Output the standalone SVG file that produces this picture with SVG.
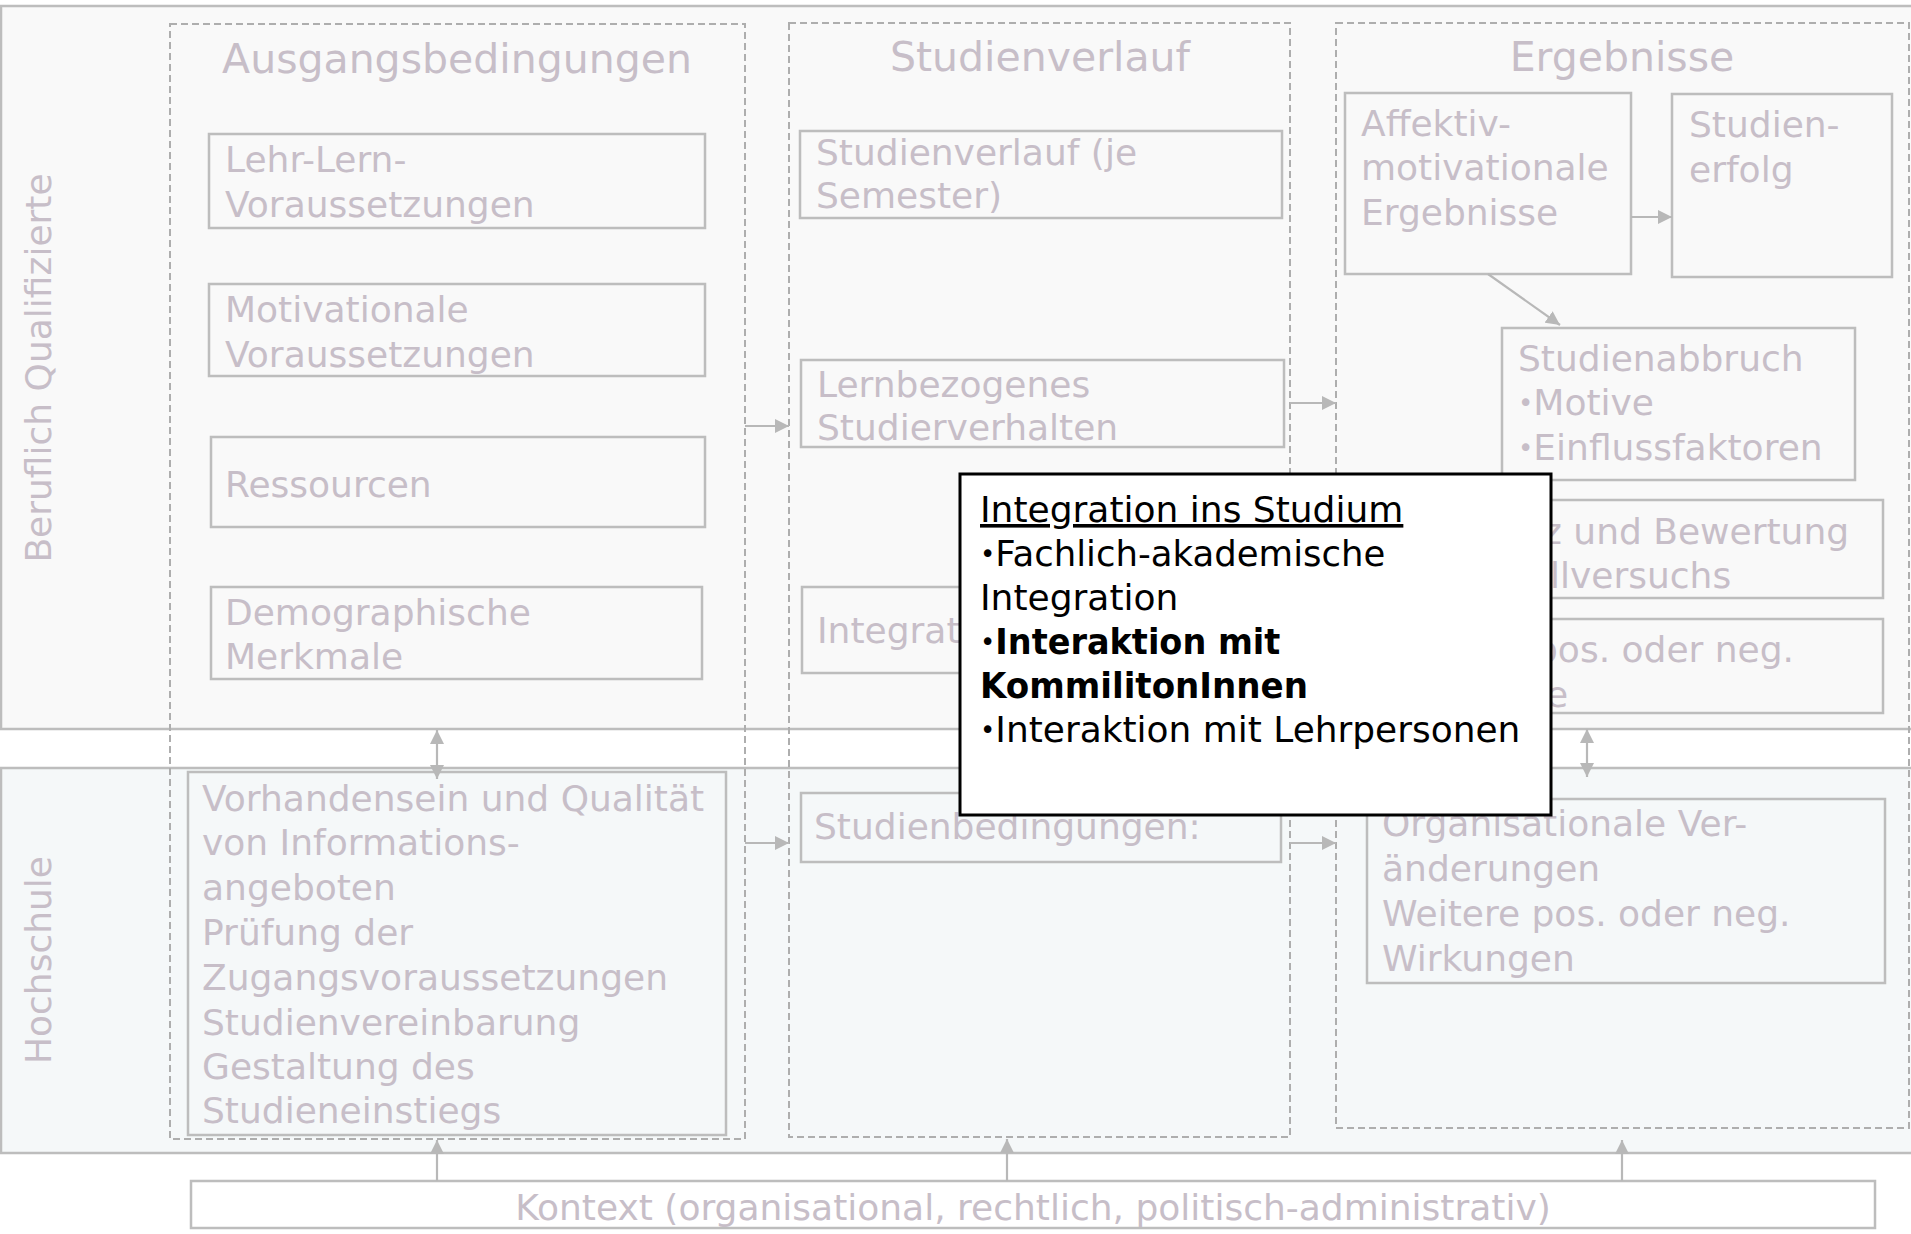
<svg xmlns="http://www.w3.org/2000/svg" width="1911" height="1234" viewBox="0 0 1911 1234">
<style>
.t{font-family:"DejaVu Sans","Liberation Sans",sans-serif;font-size:36px;fill:#c7bec8}
.h{font-size:41px;text-anchor:middle}
.p{font-family:"DejaVu Sans","Liberation Sans",sans-serif;font-size:36px;fill:#000}
.b{font-weight:bold}
.bu{font-size:26px;font-weight:normal}
.box{fill:#f9f9f9;stroke:#bdbdbd;stroke-width:2.5}
.boxh{fill:#f5f8f9;stroke:#bdbdbd;stroke-width:2.5}
.dash{fill:none;stroke:#aeaeae;stroke-width:2;stroke-dasharray:7 4}
.conn{fill:none;stroke:#b8b8b8;stroke-width:2.2}
</style>
<defs>
<marker id="ah" viewBox="0 0 14 14" refX="14" refY="7" markerWidth="14" markerHeight="14" markerUnits="userSpaceOnUse" orient="auto-start-reverse">
<path d="M0,0 L14,7 L0,14 z" fill="#b8b8b8"/>
</marker>
</defs>
<rect width="1911" height="1234" fill="#ffffff"/>

<g id="band-beruflich">
<rect x="1" y="6" width="1920" height="723" fill="#f9f9f9" stroke="#bdbdbd" stroke-width="2.5"/>
<text class="t" transform="translate(51,368) rotate(-90)" text-anchor="middle">Beruflich Qualifizierte</text>
</g>
<g id="band-hochschule">
<rect x="1" y="768" width="1920" height="385" fill="#f5f8f9" stroke="#bdbdbd" stroke-width="2.5"/>
<text class="t" transform="translate(51,960) rotate(-90)" text-anchor="middle">Hochschule</text>
</g>

<g id="col-ausgang">
<rect class="dash" x="170" y="24" width="575" height="1115"/>
<text class="t h" x="457" y="73">Ausgangsbedingungen</text>
</g>
<g id="col-verlauf">
<rect class="dash" x="789" y="23" width="501" height="1114"/>
<text class="t h" x="1040" y="71">Studienverlauf</text>
</g>
<g id="col-ergebnisse">
<rect class="dash" x="1336" y="23" width="573" height="1105"/>
<text class="t h" x="1622" y="71">Ergebnisse</text>
</g>

<g id="n-lehrlern">
<rect class="box" x="209" y="134" width="496" height="94"/>
<text class="t" x="225" y="172">Lehr-Lern-</text>
<text class="t" x="225" y="217">Voraussetzungen</text>
</g>
<g id="n-motivational">
<rect class="box" x="209" y="284" width="496" height="92"/>
<text class="t" x="225" y="322">Motivationale</text>
<text class="t" x="225" y="367">Voraussetzungen</text>
</g>
<g id="n-ressourcen">
<rect class="box" x="211" y="437" width="494" height="90"/>
<text class="t" x="225" y="497">Ressourcen</text>
</g>
<g id="n-demographisch">
<rect class="box" x="211" y="587" width="491" height="92"/>
<text class="t" x="225" y="625">Demographische</text>
<text class="t" x="225" y="669">Merkmale</text>
</g>
<g id="n-informationsangebote">
<rect class="boxh" x="188" y="772" width="538" height="363"/>
<text class="t" x="202" y="811">Vorhandensein und Qualität</text>
<text class="t" x="202" y="855">von Informations-</text>
<text class="t" x="202" y="900">angeboten</text>
<text class="t" x="202" y="945">Prüfung der</text>
<text class="t" x="202" y="990">Zugangsvoraussetzungen</text>
<text class="t" x="202" y="1035">Studienvereinbarung</text>
<text class="t" x="202" y="1079">Gestaltung des</text>
<text class="t" x="202" y="1123">Studieneinstiegs</text>
</g>

<g id="n-studienverlauf">
<rect class="box" x="800" y="131" width="482" height="87"/>
<text class="t" x="816" y="165">Studienverlauf (je</text>
<text class="t" x="816" y="208">Semester)</text>
</g>
<g id="n-lernbezogen">
<rect class="box" x="801" y="360" width="483" height="87"/>
<text class="t" x="817" y="397">Lernbezogenes</text>
<text class="t" x="817" y="440">Studierverhalten</text>
</g>
<g id="n-integration">
<rect class="box" x="802" y="587" width="482" height="86"/>
<text class="t" x="817" y="643">Integrat</text>
</g>
<g id="n-studienbedingungen">
<rect class="boxh" x="801" y="793" width="480" height="69"/>
<text class="t" x="814" y="839">Studienbedingungen:</text>
</g>

<g id="n-affektiv">
<rect class="box" x="1345" y="93" width="286" height="181"/>
<text class="t" x="1361" y="136">Affektiv-</text>
<text class="t" x="1361" y="180">motivationale</text>
<text class="t" x="1361" y="225">Ergebnisse</text>
</g>
<g id="n-studienerfolg">
<rect class="box" x="1672" y="94" width="220" height="183"/>
<text class="t" x="1689" y="137">Studien-</text>
<text class="t" x="1689" y="182">erfolg</text>
</g>
<g id="n-studienabbruch">
<rect class="box" x="1502" y="328" width="353" height="152"/>
<text class="t" x="1518" y="371">Studienabbruch</text>
<text class="t" x="1518" y="415"><tspan class="bu" dy="-3">•</tspan><tspan dy="3">Motive</tspan></text>
<text class="t" x="1518" y="460"><tspan class="bu" dy="-3">•</tspan><tspan dy="3">Einflussfaktoren</tspan></text>
</g>
<g id="n-bewertung">
<rect class="box" x="1520" y="500" width="363" height="98"/>
<text class="t" x="1543" y="544">z und Bewertung</text>
<text class="t" x="1550" y="588">llversuchs</text>
</g>
<g id="n-wirkungen">
<rect class="box" x="1520" y="619" width="363" height="94"/>
<text class="t" x="1535" y="662">pos. oder neg.</text>
<text class="t" x="1546" y="707">e</text>
</g>
<g id="n-organisational">
<rect class="boxh" x="1367" y="799" width="518" height="184"/>
<text class="t" x="1382" y="836">Organisationale Ver-</text>
<text class="t" x="1382" y="881">änderungen</text>
<text class="t" x="1382" y="926">Weitere pos. oder neg.</text>
<text class="t" x="1382" y="971">Wirkungen</text>
</g>

<g id="n-kontext">
<rect x="191" y="1181" width="1684" height="47" fill="#ffffff" stroke="#bdbdbd" stroke-width="2.5"/>
<text class="t" x="1033" y="1220" text-anchor="middle">Kontext (organisational, rechtlich, politisch-administrativ)</text>
</g>

<g id="connectors">
<line class="conn" x1="745" y1="426" x2="789" y2="426" marker-end="url(#ah)"/>
<line class="conn" x1="1290" y1="403" x2="1336" y2="403" marker-end="url(#ah)"/>
<line class="conn" x1="745" y1="843" x2="789" y2="843" marker-end="url(#ah)"/>
<line class="conn" x1="1290" y1="843" x2="1336" y2="843" marker-end="url(#ah)"/>
<line class="conn" x1="1631" y1="217" x2="1672" y2="217" marker-end="url(#ah)"/>
<line class="conn" x1="1488" y1="274" x2="1560" y2="325" marker-end="url(#ah)"/>
<line class="conn" x1="437" y1="730" x2="437" y2="779" marker-start="url(#ah)" marker-end="url(#ah)"/>
<line class="conn" x1="1587" y1="729" x2="1587" y2="777" marker-start="url(#ah)" marker-end="url(#ah)"/>
<line class="conn" x1="437" y1="1181" x2="437" y2="1140" marker-end="url(#ah)"/>
<line class="conn" x1="1007" y1="1181" x2="1007" y2="1139" marker-end="url(#ah)"/>
<line class="conn" x1="1622" y1="1181" x2="1622" y2="1140" marker-end="url(#ah)"/>
</g>

<g id="popup-integration">
<rect x="960" y="474" width="591" height="341" fill="#ffffff" stroke="#000000" stroke-width="3"/>
<text class="p" x="980" y="522" text-decoration="underline">Integration ins Studium</text>
<text class="p" x="980" y="566"><tspan class="bu" dy="-3">•</tspan><tspan dy="3" textLength="390" lengthAdjust="spacingAndGlyphs">Fachlich-akademische</tspan></text>
<text class="p" x="980" y="610">Integration</text>
<text class="p b" x="980" y="654"><tspan class="bu" dy="-3">•</tspan><tspan dy="3" textLength="285" lengthAdjust="spacingAndGlyphs">Interaktion mit</tspan></text>
<text class="p b" x="980" y="698" textLength="328" lengthAdjust="spacingAndGlyphs">KommilitonInnen</text>
<text class="p" x="980" y="742"><tspan class="bu" dy="-3">•</tspan><tspan dy="3" textLength="525" lengthAdjust="spacingAndGlyphs">Interaktion mit Lehrpersonen</tspan></text>
</g>
</svg>
